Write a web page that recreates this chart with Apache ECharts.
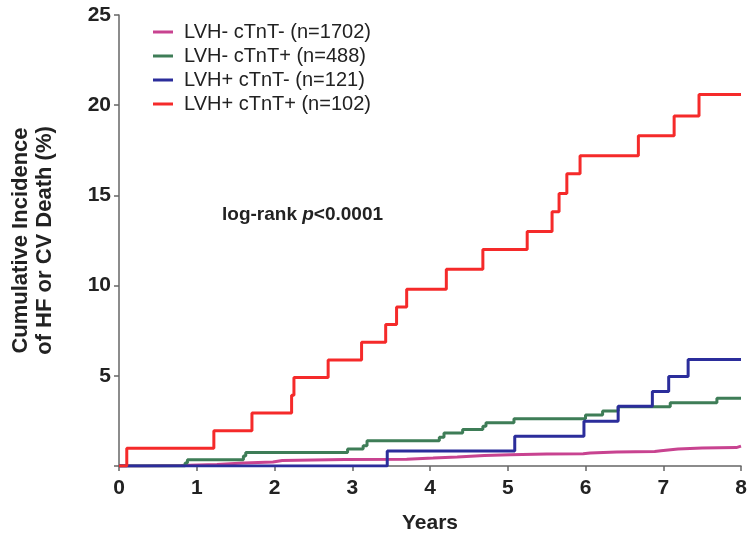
<!DOCTYPE html>
<html>
<head>
<meta charset="utf-8">
<script src="https://cdn.jsdelivr.net/npm/echarts@6/dist/echarts.min.js"></script>
<style>
  html, body { margin: 0; padding: 0; background: #fff; }
  #chart { width: 750px; height: 534px; }
</style>
</head>
<body>
<div id="chart"></div>
<script>
// Kaplan-Meier style cumulative incidence (years, %)
var xTicks = [0, 1, 2, 3, 4, 5, 6, 7, 8];
var yTicks = [0, 5, 10, 15, 20, 25];

var groupNames = [
  'LVH- cTnT- (n=1702)',
  'LVH- cTnT+ (n=488)',
  'LVH+ cTnT- (n=121)',
  'LVH+ cTnT+ (n=102)'
];

var magentaX = [0, 0.30, 0.80, 1.26, 1.60, 1.98, 2.10, 2.90, 3.70, 4.04, 4.35, 4.70, 5.03, 5.50, 5.97, 6.06, 6.40, 6.89, 6.97, 7.19, 7.50, 7.94, 8.00];
var magentaY = [0, 0.03, 0.08, 0.17, 0.22, 0.30, 0.36, 0.38, 0.44, 0.50, 0.58, 0.62, 0.67, 0.68, 0.72, 0.78, 0.80, 0.85, 0.94, 1.00, 1.02, 1.10, 1.10];

var greenX = [0, 0.85, 0.88, 1.60, 1.63, 2.94, 3.14, 3.19, 4.12, 4.18, 4.42, 4.68, 4.72, 5.08, 6.00, 6.22, 6.42, 7.09, 7.69, 8.00];
var greenY = [0, 0.17, 0.35, 0.55, 0.75, 0.94, 1.12, 1.40, 1.60, 1.83, 2.02, 2.20, 2.40, 2.62, 2.83, 3.05, 3.28, 3.50, 3.75, 3.75];

var blueX = [0, 3.45, 5.09, 5.98, 6.42, 6.86, 7.07, 7.32, 8.00];
var blueY = [0, 0.83, 1.65, 2.48, 3.31, 4.13, 4.96, 5.90, 5.90];

var redX = [0, 0.10, 1.22, 1.71, 2.22, 2.25, 2.69, 3.12, 3.43, 3.57, 3.70, 4.21, 4.68, 5.25, 5.57, 5.66, 5.76, 5.93, 6.68, 7.14, 7.46, 8.00];
var redY = [0, 0.98, 1.96, 2.94, 3.92, 4.90, 5.88, 6.86, 7.84, 8.82, 9.80, 10.9, 12.0, 13.0, 14.1, 15.1, 16.2, 17.2, 18.3, 19.4, 20.6, 20.6];

var colors = ['#c84390', '#3e7d57', '#2b2d9b', '#f52a2a'];

function pairs(xs, ys) {
  return xs.map(function (x, i) { return [x, ys[i]]; });
}

var chart = echarts.init(document.getElementById('chart'));

var seriesData = [pairs(magentaX, magentaY), pairs(greenX, greenY), pairs(blueX, blueY), pairs(redX, redY)];

var option = {
  animation: false,
  color: colors,
  grid: { left: 119, right: 9, top: 15, bottom: 68, outerBoundsMode: 'none', containLabel: false },
  legend: {
    orient: 'vertical',
    left: 153,
    top: 22,
    padding: 0,
    itemGap: 4,
    itemWidth: 20,
    itemHeight: 3,
    icon: 'rect',
    data: groupNames,
    textStyle: { fontFamily: 'Liberation Sans', fontSize: 20, color: '#222', padding: [0, 0, 0, 6] }
  },
  xAxis: {
    type: 'value',
    min: xTicks[0],
    max: xTicks[xTicks.length - 1],
    interval: 1,
    name: 'Years',
    nameLocation: 'middle',
    nameGap: 47,
    nameTextStyle: { fontFamily: 'Liberation Sans', fontWeight: 'bold', fontSize: 21, color: '#222' },
    splitLine: { show: false },
    axisLine: { lineStyle: { color: '#666', width: 1.5 } },
    axisTick: { length: 5, lineStyle: { color: '#666', width: 1.5 } },
    axisLabel: { margin: 12, fontFamily: 'Liberation Sans', fontWeight: 'bold', fontSize: 21, color: '#222' }
  },
  yAxis: {
    type: 'value',
    min: yTicks[0],
    max: yTicks[yTicks.length - 1],
    interval: 5,
    name: 'Cumulative Incidence\nof HF or CV Death (%)',
    nameLocation: 'middle',
    nameGap: 62,
    nameTextStyle: { fontFamily: 'Liberation Sans', fontWeight: 'bold', fontSize: 22, lineHeight: 24, color: '#222' },
    splitLine: { show: false },
    axisLine: { show: true, lineStyle: { color: '#666', width: 1.5 } },
    axisTick: { show: true, length: 5, lineStyle: { color: '#666', width: 1.5 } },
    axisLabel: {
      margin: 8,
      fontFamily: 'Liberation Sans',
      fontWeight: 'bold',
      fontSize: 21,
      color: '#222',
      formatter: function (v) { return v === 0 ? '' : String(v); }
    }
  },
  graphic: [{
    type: 'text',
    left: 222,
    top: 205,
    style: {
      text: '{a|log-rank }{b|p}{a|<0.0001}',
      rich: {
        a: { fontFamily: 'Liberation Sans', fontWeight: 'bold', fontSize: 19, fill: '#222' },
        b: { fontFamily: 'Liberation Sans', fontWeight: 'bold', fontStyle: 'italic', fontSize: 19, fill: '#222' }
      }
    }
  }],
  series: groupNames.map(function (name, i) {
    return {
      name: name,
      type: 'line',
      step: 'end',
      showSymbol: false,
      symbol: 'none',
      data: seriesData[i],
      lineStyle: { width: 3, color: colors[i] },
      z: 2 + i
    };
  })
};

chart.setOption(option);
</script>
</body>
</html>
